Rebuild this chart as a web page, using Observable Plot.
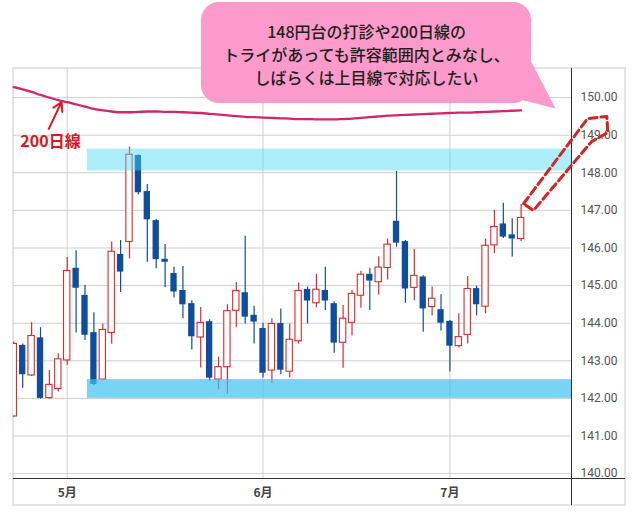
<!DOCTYPE html>
<html><head><meta charset="utf-8">
<script src="https://cdn.jsdelivr.net/npm/d3@7"></script>
<script src="https://cdn.jsdelivr.net/npm/@observablehq/plot@0.6"></script>
<style>body{margin:0;background:#fff;} #chart{width:640px;height:512px;}</style>
</head><body><div id="chart"></div>
<script>
// trading days (weekdays) 2025-04-23 .. 2025-07-11
const days = d3.utcDays(new Date("2025-04-23"), new Date("2025-07-12")).filter(d => d.getUTCDay() % 6 !== 0);

const open = [141.52,143.41,142.61,143.61,142.01,142.25,143.01,145.46,144.74,143.75,142.50,143.74,145.83,146.16,148.46,147.50,146.73,145.70,145.32,144.87,144.52,143.62,144.04,142.50,142.83,144.33,144.81,144.21,143.86,142.74,143.99,142.71,143.52,144.90,144.53,144.87,144.52,143.48,144.01,144.73,145.30,145.09,145.47,146.71,146.17,144.94,145.23,144.43,144.36,144.05,143.39,143.69,144.92,144.44,146.07,146.64,146.35,146.24];
const high = [143.50,143.45,144.01,143.88,142.74,143.19,145.75,145.93,145.00,144.28,143.98,146.16,146.20,148.68,148.48,147.69,146.76,146.09,145.49,145.51,144.60,144.42,144.09,143.10,144.49,145.08,146.31,144.45,144.00,144.12,144.38,143.97,145.07,144.96,145.30,145.49,144.57,144.47,144.87,145.38,145.46,145.77,146.24,148.04,146.20,145.97,145.26,144.96,144.76,144.07,144.25,145.24,144.98,146.24,147.00,147.19,146.78,147.16];
const low = [141.50,142.27,142.58,141.98,141.98,142.17,142.88,143.74,143.54,142.34,142.48,143.44,144.82,145.71,147.41,145.62,145.45,144.94,144.67,144.12,143.29,142.81,142.46,142.23,142.12,143.88,143.98,143.45,142.54,142.39,142.63,142.55,143.45,143.98,144.41,144.34,143.20,142.80,143.66,144.40,144.34,144.75,145.15,146.02,144.53,144.60,143.76,144.19,143.79,142.70,143.34,143.45,144.19,144.25,145.85,146.25,145.76,146.17];
const close = [143.45,142.63,143.66,142.00,142.36,143.04,145.39,144.93,143.68,142.37,143.82,145.90,145.36,148.48,147.47,146.75,145.69,145.62,144.83,144.49,143.64,144.01,142.54,142.83,144.32,144.86,144.16,144.03,142.67,143.98,142.75,143.56,144.86,144.59,144.89,144.59,143.47,144.12,144.78,145.29,145.12,145.48,146.09,146.13,144.91,145.26,144.38,144.65,144.00,143.39,143.63,144.91,144.49,146.06,146.56,146.29,146.24,146.80];
const ma200 = [150.28,150.22,150.15,150.07,150.00,149.93,149.88,149.82,149.76,149.70,149.66,149.63,149.61,149.61,149.62,149.63,149.63,149.62,149.62,149.61,149.60,149.59,149.57,149.55,149.53,149.51,149.49,149.48,149.47,149.46,149.45,149.44,149.43,149.43,149.42,149.42,149.42,149.43,149.44,149.46,149.48,149.50,149.52,149.53,149.54,149.55,149.56,149.57,149.58,149.59,149.60,149.60,149.61,149.62,149.63,149.64,149.65,149.66];

const yTicks = [140,141,142,143,144,145,146,147,148,149,150];
// zones (index start/end, price low/high)
const zoneX1 = [8.28, 8.28];
const zoneX2 = [62.66, 62.66];
const zoneLo = [148.05, 142.00];
const zoneHi = [148.63, 142.50];
const zoneColor = ["#4bd9f6", "#3ec2f1"];
const zoneOpacity = [0.45, 0.7];

const calloutLines = ["148円台の打診や200日線の", "トライがあっても許容範囲内とみなし、", "しばらくは上目線で対応したい"];
const maLabel = "200日線";

const red = "#dd2b2b", blue = "#0f4d9f";
const xMin = -0.034, xMax = 62.66, yMin = 139.87, yMax = 150.774;
const outerX = 68.73, outerY = 139.15;

const data = days.map((d, i) => ({i, date: d, o: open[i], h: high[i], l: low[i], c: close[i], ma: ma200[i], up: close[i] >= open[i]}));
const monthTicks = data.filter((d, i) => i > 0 && d.date.getUTCMonth() !== data[i-1].date.getUTCMonth());
const monthLabel = new Map(monthTicks.map(d => [d.i, `${d.date.getUTCMonth() + 1}月`]));
const zones = zoneX1.map((x, k) => ({x1: x, x2: zoneX2[k], y1: zoneLo[k], y2: zoneHi[k], fill: zoneColor[k], op: zoneOpacity[k]}));

// annotation geometry in data coords
const maArrow = [{x1: 3.93, y1: 149.17, x2: 5.36, y2: 149.88}];
const bigArrow = [[57.27,147.18],[64.46,149.44],[66.63,149.50],[66.74,149.07],[64.91,148.83],[58.39,147.00],[57.27,147.18]].map(([x,y]) => ({x, y}));
const bubble = [{x1: 21.09, x2: 58.17, y1: 149.84, y2: 152.53}];
const tail = [[57.0,149.94],[58.17,150.95],[60.86,149.71]].map(([x,y]) => ({x, y}));

const up = data.filter(d => d.up), down = data.filter(d => !d.up);
const hw = 0.355;

const chart = Plot.plot({
  width: 640, height: 512,
  marginLeft: 13, marginRight: 69, marginTop: 68, marginBottom: 34,
  style: {fontFamily: "'Noto Sans CJK JP', 'Noto Sans', sans-serif", background: "white", overflow: "visible"},
  x: {domain: [xMin, xMax], axis: null},
  y: {domain: [yMin, yMax], axis: null},
  marks: [
    Plot.rect([{}], {x1: xMin, x2: outerX, y1: outerY, y2: yMax, fill: "none", stroke: "#e4e4e4", strokeWidth: 2, clip: false}),
    Plot.gridY(yTicks, {stroke: "#cfcfcf", strokeOpacity: 1}),
    Plot.gridX(monthTicks.map(d => d.i), {stroke: "#cfcfcf", strokeOpacity: 1}),
    Plot.line(data, {x: "i", y: "ma", stroke: "#d4256b", strokeWidth: 2.3, curve: "monotone-x"}),
    Plot.ruleX(up, {x: "i", y1: "l", y2: "h", stroke: red, strokeWidth: 1.2, clip: true}),
    Plot.ruleX(down, {x: "i", y1: "l", y2: "h", stroke: blue, strokeWidth: 1.2, clip: true}),
    Plot.rect(up, {x1: d => d.i - hw, x2: d => d.i + hw, y1: "o", y2: "c", fill: "white", stroke: red, strokeWidth: 1.1, clip: true}),
    Plot.rect(down, {x1: d => d.i - hw, x2: d => d.i + hw, y1: "o", y2: "c", fill: blue, clip: true}),
    ...zones.map(z => Plot.rect([z], {x1: "x1", x2: "x2", y1: "y1", y2: "y2", fill: z.fill, fillOpacity: z.op})),
    Plot.ruleX([xMax], {y1: outerY, y2: yMax, stroke: "#333", strokeWidth: 1, clip: false}),
    Plot.ruleY([yMin], {x1: xMin, x2: outerX, stroke: "#333", strokeWidth: 1.2, clip: false}),
    Plot.axisY(yTicks, {anchor: "right", tickSize: 0, tickPadding: 9, tickFormat: d => d.toFixed(2), fontSize: 12, fill: "#555", fontFamily: "Roboto, 'Noto Sans', sans-serif"}),
    Plot.axisX(monthTicks.map(d => d.i), {anchor: "bottom", tickSize: 0, tickPadding: 10, tickFormat: d => monthLabel.get(d), fontSize: 12, fontWeight: 700, fill: "#444"}),
    Plot.text([maLabel], {x: 4.12, y: 148.83, text: d => d, fontSize: 16, fontWeight: 700, fill: "#e0141e"}),
    Plot.arrow(maArrow, {x1: "x1", y1: "y1", x2: "x2", y2: "y2", stroke: "#e0141e", strokeWidth: 2, headLength: 10}),
    Plot.line(bigArrow, {x: "x", y: "y", stroke: "#d42424", strokeWidth: 3, strokeDasharray: "8,4", clip: false}),
    Plot.rect(bubble, {x1: "x1", x2: "x2", y1: "y1", y2: "y2", fill: "#fc9bcb", rx: 18, clip: false}),
    Plot.line(tail, {x: "x", y: "y", fill: "#fc9bcb", stroke: "none", clip: false}),
    Plot.text([calloutLines.join("\n")], {x: 39.63, y: 151.165, text: d => d, fontSize: 16, fontWeight: 500, lineHeight: 1.42, fill: "#1e1e1e", clip: false})
  ]
});
document.getElementById("chart").appendChild(chart);
</script>
</body></html>
